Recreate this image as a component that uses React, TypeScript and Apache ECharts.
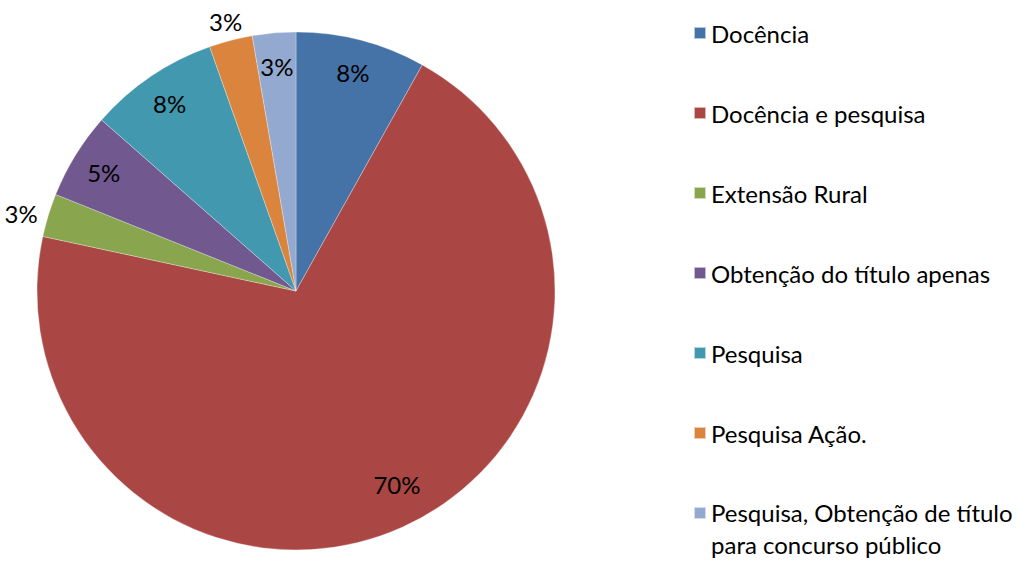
import React, { useEffect, useRef } from "react";
import * as echarts from "echarts";

const categories = [
  "Docência",
  "Docência e pesquisa",
  "Extensão Rural",
  "Obtenção do título apenas",
  "Pesquisa",
  "Pesquisa Ação.",
  "Pesquisa, Obtenção de título para concurso público",
];
const legendLabels = [
  "Docência",
  "Docência e pesquisa",
  "Extensão Rural",
  "Obtenção do título apenas",
  "Pesquisa",
  "Pesquisa Ação.",
  "{a|Pesquisa, Obtenção de título}\n{b|para concurso público}",
];
const counts = [3, 26, 1, 2, 3, 1, 1];
const colors = ["#4572A7", "#AA4643", "#89A54E", "#71588F", "#4198AF", "#DB843D", "#93A9CF"];
const outsideLabel = [false, false, true, false, false, true, false];

const FONT = "Lato";

export default function App() {
  const ref = useRef<HTMLDivElement>(null);
  useEffect(() => {
    document.body.style.margin = "0";
    const chart = echarts.init(ref.current!, null, { renderer: "svg" });
    const total = counts.reduce((a, b) => a + b, 0);
    const pct = (v: number) => Math.round((v / total) * 100) + "%";
    const R = 259;
    const center = [296, 291];
    const txt = { fontFamily: FONT, fontSize: 24, color: "#000" };
    chart.setOption({
      animation: false,
      color: colors,
      textStyle: { fontFamily: FONT },
      legend: {
        orient: "vertical",
        left: 693,
        top: 1,
        padding: 0,
        height: 565,
        itemWidth: 12,
        itemHeight: 12,
        itemGap: 16,
        icon: "rect",
        selectedMode: false,
        textStyle: {
          ...txt,
          lineHeight: 64,
          rich: {
            a: { ...txt, lineHeight: 63 },
            b: { ...txt, lineHeight: 1 },
          },
        },
        formatter: (name: string) => legendLabels[categories.indexOf(name)],
        data: categories,
      },
      series: [
        {
          type: "pie",
          center,
          radius: [0, R],
          startAngle: 90,
          clockwise: true,
          silent: true,
          itemStyle: { borderColor: "rgba(255,255,255,0.6)", borderWidth: 0.5 },
          label: {
            show: true,
            position: "outside",
            ...txt,
            overflow: "none",
            formatter: (p: any) => pct(p.value),
          },
          edgeDistance: 0,
          labelLine: { show: false, length: 6, length2: 0 },
          labelLayout: (p: any) => (p.dataIndex === 5 ? { dx: 18, dy: -13 } : {}),
          data: categories.map((c, i) => ({
            name: c,
            value: counts[i],
            label: { show: outsideLabel[i] },
          })),
        },
        {
          type: "pie",
          center,
          radius: [R * 0.72, R],
          startAngle: 90,
          clockwise: true,
          silent: true,
          legendHoverLink: false,
          itemStyle: { color: "rgba(0,0,0,0)" },
          label: {
            show: true,
            position: "inside",
            ...txt,
            formatter: (p: any) => pct(p.value),
          },
          labelLine: { show: false },
          labelLayout: (p: any) => (p.dataIndex === 1 ? { dx: 8, dy: -12 } : {}),
          data: categories.map((c, i) => ({
            name: c,
            value: counts[i],
            label: { show: !outsideLabel[i] },
          })),
        },
      ],
    });
    return () => chart.dispose();
  }, []);
  return <div ref={ref} style={{ width: 1026, height: 565 }} />;
}
